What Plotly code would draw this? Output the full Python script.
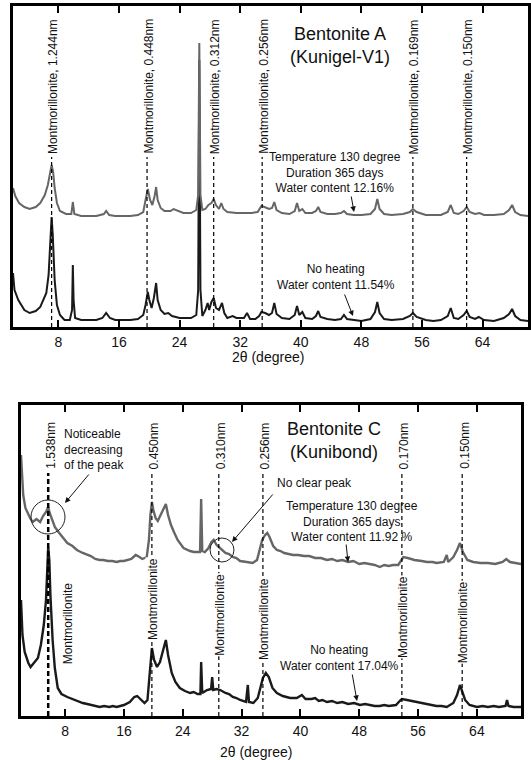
import plotly.graph_objects as go

W, H = 531, 760

# ---------------- Panel A : Bentonite A (Kunigel-V1) ----------------
a_heat_deg = [2.0, 2.3, 2.8, 3.5, 4.2, 5.0, 5.6, 6.2, 6.6, 6.9, 7.1, 7.3, 7.5, 7.8, 8.2, 9.0, 9.7, 9.9, 10.1,
              11, 12, 13, 14.0, 14.3, 14.7, 15.5, 16.5, 17.5, 18.5, 19.2, 19.5, 19.8, 20.1, 20.4, 20.7, 20.9,
              21.1, 21.5, 22, 22.8, 23.2, 23.8, 24.5, 25.5, 26.2, 26.45, 26.6, 26.75, 27.0, 27.4, 27.8, 28.2,
              28.5, 28.8, 29.2, 29.5, 29.8, 30.3, 31.5, 32.5, 33.5, 34.3, 34.8, 35.2, 35.8, 36.2, 36.5, 36.8,
              37.5, 38.5, 39.2, 39.5, 39.8, 40.2, 40.6, 41.5, 42.0, 42.3, 42.6, 43.5, 44.5, 45.3, 45.7, 46.1,
              47, 48, 49.2, 49.8, 50.1, 50.4, 51, 52, 53.5, 54.4, 54.8, 55.3, 56.5, 57.5, 58.5, 59.4, 59.8,
              60.2, 60.8, 61.5, 61.9, 62.3, 63.0, 63.6, 64.2, 65.5, 66.8, 67.5, 67.9, 68.3, 69.0, 70.0]
a_heat_int = [139, 131, 124, 120, 118, 120, 124, 132, 142, 155, 162, 155, 139, 124, 116, 113, 113, 125, 113,
              111, 111, 111, 113, 116, 112, 111, 111, 111, 112, 115, 127, 138, 127, 122, 131, 140,
              127, 119, 116, 116, 118, 116, 114, 114, 117, 132, 284, 132, 117, 118, 122, 124,
              128, 122, 118, 124, 118, 115, 114, 114, 114, 115, 121, 120, 118, 119, 125, 117,
              114, 113, 116, 124, 116, 118, 114, 114, 116, 120, 115, 113, 113, 114, 116, 113,
              112, 112, 113, 118, 128, 118, 113, 112, 113, 115, 118, 115, 112, 112, 112, 115, 122,
              114, 113, 116, 120, 115, 113, 114, 112, 112, 113, 117, 122, 115, 112, 111]

a_raw_deg = [2.0, 2.2, 2.7, 3.5, 4.2, 5.0, 5.6, 6.0, 6.4, 6.7, 6.9, 7.1, 7.25, 7.5, 7.8, 8.2, 8.8, 9.5, 9.8,
             9.9, 10.0, 10.2, 11, 12, 13, 13.8, 14.3, 14.8, 15.5, 16.5, 17.5, 18.5, 19.2, 19.5, 19.8, 20.0,
             20.3, 20.6, 20.9, 21.1, 21.5, 22, 22.5, 23, 24, 25.5, 26.2, 26.45, 26.6, 26.75, 27.0, 27.4,
             27.7, 27.9, 28.2, 28.5, 28.8, 29.2, 29.6, 29.9, 30.3, 31.0, 31.5, 32.5, 32.9, 33.3, 34.0, 34.5,
             34.8, 35.3, 35.8, 36.2, 36.5, 36.8, 37.5, 38.5, 39.2, 39.5, 39.8, 40.2, 40.6, 41.5, 42.0, 42.3,
             42.6, 43.5, 44.5, 45.3, 45.7, 46.1, 47, 48, 49.2, 49.8, 50.1, 50.4, 51, 52, 53.5, 54.4, 54.8,
             55.3, 56.5, 57.5, 58.5, 59.4, 59.8, 60.2, 60.8, 61.5, 61.9, 62.3, 63.0, 63.5, 64.2, 65.5, 66.8,
             67.5, 67.9, 68.3, 69.0, 70.0]
a_raw_int = [54, 37, 27, 17, 14, 16, 20, 27, 34, 52, 82, 110, 92, 47, 22, 12, 7, 7, 17,
             62, 27, 9, 7, 7, 7, 9, 14, 9, 7, 7, 7, 8, 12, 22, 35, 27,
             19, 29, 44, 27, 17, 13, 14, 11, 9, 9, 12, 37, 267, 37, 11, 17,
             24, 17, 25, 29, 19, 17, 24, 14, 9, 11, 9, 9, 14, 8, 8, 11,
             15, 14, 12, 14, 24, 13, 9, 8, 12, 21, 12, 15, 9, 8, 11, 16,
             10, 8, 7, 8, 12, 8, 7, 6, 8, 15, 25, 14, 8, 7, 8, 11, 14,
             10, 7, 6, 7, 11, 19, 9, 8, 12, 16, 10, 8, 10, 7, 6, 9,
             13, 18, 11, 7, 6]

a_peak_deg = [7.1, 19.7, 28.5, 34.9, 54.8, 61.9]
a_peak_labels = ["Montmorillonite, 1.244nm", "Montmorillonite, 0.448nm", "Montmorillonite, 0.312nm",
                 "Montmorillonite, 0.256nm", "Montmorillonite, 0.169nm", "Montmorillonite, 0.150nm"]

# ---------------- Panel C : Bentonite C (Kunibond) ----------------
c_heat_deg = [2.0, 2.1, 2.3, 2.6, 3.0, 3.3, 3.6, 4.1, 4.6, 5.0, 5.4, 5.7, 5.9, 6.2, 6.6, 7.2, 7.8, 8.3, 9.0,
              9.6, 10.4, 11.0, 11.5, 12.1, 12.7, 13.2, 13.8, 14.4, 15.0, 15.5, 16.0, 17.0, 17.6, 17.9, 18.5,
              19.1, 19.4, 19.6, 19.8, 20.0, 20.3, 20.6, 21.0, 21.4, 21.7, 22.0, 22.4, 22.8, 23.3, 24.1, 24.6,
              25.0, 25.5, 26.0, 26.35, 26.5, 26.65, 27.0, 27.5, 27.9, 28.2, 28.6, 29.1, 29.8, 30.3, 30.8, 31.3,
              31.8, 32.7, 33.5, 34.1, 34.5, 34.8, 35.2, 35.5, 35.8, 36.3, 36.8, 37.3, 37.8, 38.4, 39.0, 39.7,
              40.5, 41.2, 42.0, 42.8, 43.6, 44.3, 45.0, 45.7, 46.5, 47.2, 48.0, 48.7, 49.5, 50.1, 50.8, 51.4,
              52.0, 52.6, 53.3, 53.7, 54.0, 54.6, 55.5, 56.5, 57.2, 58.0, 58.5, 59.5, 59.9, 60.1, 60.8, 61.3,
              61.7, 62.1, 62.7, 63.5, 64.5, 65.5, 66.5, 67.5, 68.0, 68.5, 69.2, 70.0]
c_heat_int = [261, 241, 221, 208, 201, 197, 194, 197, 194, 200, 204, 209, 203, 196, 189, 183, 177, 173, 170,
              166, 163, 161, 160, 157, 156, 156, 155, 155, 154, 155, 155, 157, 161, 160, 157,
              159, 176, 201, 214, 206, 198, 195, 201, 208, 212, 201, 191, 184, 176, 168, 166,
              165, 164, 164, 164, 217, 165, 164, 168, 174, 176, 171, 168, 163, 162, 159, 158,
              155, 154, 153, 156, 166, 176, 181, 183, 179, 170, 166, 165, 163, 162, 161, 161,
              160, 160, 158, 158, 156, 157, 155, 156, 154, 155, 152, 153, 152, 151, 149, 151,
              150, 151, 151, 156, 159, 158, 156, 155, 154, 154, 153, 154, 161, 154, 159, 166,
              173, 164, 156, 154, 153, 153, 152, 154, 157, 154, 153, 152]

c_raw_deg = [2.0, 2.2, 2.5, 3.0, 3.3, 3.8, 4.3, 4.7, 5.1, 5.4, 5.55, 5.7, 5.85, 6.0, 6.3, 6.6, 7.0, 7.5, 8.3,
             9.3, 10.4, 11.0, 11.5, 12.1, 12.7, 13.3, 14.0, 14.5, 15.0, 15.5, 16.0, 16.8, 17.4, 17.8, 18.3,
             18.8, 19.2, 19.5, 19.8, 20.1, 20.5, 20.9, 21.3, 21.7, 22.0, 22.5, 23.0, 23.6, 24.3, 25.0, 25.5,
             26.0, 26.4, 26.5, 26.65, 27.3, 27.85, 28.0, 28.15, 28.6, 29.1, 29.8, 30.3, 30.8, 31.3, 31.8, 32.6,
             32.85, 33.0, 33.6, 34.2, 34.6, 34.9, 35.3, 35.7, 36.2, 36.8, 37.6, 38.6, 39.5, 40.2, 40.7, 41.5,
             42.0, 42.5, 43.0, 43.6, 44.3, 45.0, 45.7, 46.5, 47.3, 48.1, 48.8, 49.5, 50.1, 50.8, 51.4, 52.0,
             52.6, 53.0, 53.5, 53.8, 54.5, 55.2, 55.9, 56.5, 57.0, 57.7, 58.5, 59.2, 59.9, 60.8, 61.3, 61.7,
             62.1, 62.4, 63.0, 64.0, 64.8, 65.5, 66.3, 67.0, 67.9, 68.1, 68.3, 69.0, 70.0]
c_raw_int = [116, 81, 64, 53, 49, 53, 58, 71, 91, 116, 146, 169, 156, 121, 76, 48, 28, 22, 19,
             16, 13, 12, 11, 10, 9, 10, 9, 10, 9, 10, 11, 14, 19, 20, 16,
             13, 16, 41, 68, 56, 49, 54, 66, 76, 61, 43, 34, 28, 25, 23, 24,
             22, 22, 54, 23, 26, 27, 39, 26, 27, 26, 23, 22, 19, 18, 16, 14,
             31, 14, 13, 18, 31, 38, 43, 39, 28, 23, 20, 18, 18, 21, 17, 17,
             18, 15, 16, 14, 15, 13, 14, 12, 13, 11, 12, 11, 10, 10, 11, 10,
             11, 11, 15, 17, 16, 15, 14, 13, 12, 11, 10, 10, 9, 13, 21, 31,
             22, 16, 11, 9, 10, 9, 10, 9, 10, 16, 10, 9, 9]

c_peak_deg = [5.7, 19.8, 28.9, 34.9, 53.8, 62.0]
c_peak_labels = ["1.538nm", "0.450nm", "0.310nm", "0.256nm", "0.170nm", "0.150nm"]
c_mont_label = "Montmorillonite"

FONT = "Arial, 'Liberation Sans', sans-serif"
GRAY = "#666666"
BLACK = "#1a1a1a"


def px(p):
    return p / W


def py(p):
    return 1 - p / H


fig = go.Figure()
fig.add_trace(go.Scatter(x=a_raw_deg, y=a_raw_int, mode="lines", line=dict(color=BLACK, width=2),
                         xaxis="x", yaxis="y", showlegend=False))
fig.add_trace(go.Scatter(x=a_heat_deg, y=a_heat_int, mode="lines", line=dict(color=GRAY, width=2),
                         xaxis="x", yaxis="y", showlegend=False))
fig.add_trace(go.Scatter(x=c_raw_deg, y=c_raw_int, mode="lines", line=dict(color=BLACK, width=2.4),
                         xaxis="x2", yaxis="y2", showlegend=False))
fig.add_trace(go.Scatter(x=c_heat_deg, y=c_heat_int, mode="lines", line=dict(color=GRAY, width=2.4),
                         xaxis="x2", yaxis="y2", showlegend=False))

ticks = [8, 16, 24, 32, 40, 48, 56, 64]
axis_common = dict(range=[2, 70], tickvals=ticks, ticktext=[str(t) for t in ticks], ticks="inside",
                   ticklen=7, tickwidth=1.5, tickcolor="black", showline=True, linewidth=2.5,
                   linecolor="black", mirror="ticks", showgrid=False, zeroline=False,
                   tickfont=dict(family=FONT, size=14, color="#111"))
yaxis_common = dict(showticklabels=False, ticks="", showline=True, linewidth=2.5, linecolor="black",
                    mirror=True, showgrid=False, zeroline=False)

annotations = []
shapes = []

# Panel A dashed reference lines and labels
for d, lab in zip(a_peak_deg, a_peak_labels):
    shapes.append(dict(type="line", xref="x", yref="paper", x0=d, x1=d, y0=py(327), y1=py(157),
                       line=dict(color="black", width=1.2, dash="4px,3px")))
    annotations.append(dict(xref="x", yref="paper", x=d, y=py(156), text=lab, textangle=-90,
                            showarrow=False, xanchor="center", yanchor="bottom", xshift=2,
                            font=dict(family=FONT, size=12, color="#111")))

# Panel C dashed reference lines and labels
for i, (d, lab) in enumerate(zip(c_peak_deg, c_peak_labels)):
    shapes.append(dict(type="line", xref="x2", yref="paper", x0=d, x1=d, y0=py(716), y1=py(473),
                       line=dict(color="black", width=2.5 if i == 0 else 1.2,
                                 dash="5px,3px" if i == 0 else "4px,3px")))
    annotations.append(dict(xref="x2", yref="paper", x=d, y=py(471), text=lab, textangle=-90,
                            showarrow=False, xanchor="center", yanchor="bottom", xshift=2,
                            font=dict(family=FONT, size=12, color="#111")))

mont_pos = [(8.3, 623, False), (19.8, 599, True), (28.9, 615, True), (34.9, 619, True),
            (53.8, 617, True), (62.0, 622, True)]
for d, yc, bg in mont_pos:
    annotations.append(dict(xref="x2", yref="paper", x=d, y=py(yc), text=c_mont_label, textangle=-90,
                            showarrow=False, xanchor="center", yanchor="middle", xshift=1,
                            bgcolor="white" if bg else "rgba(0,0,0,0)", borderpad=0,
                            font=dict(family=FONT, size=12, color="#111")))


def text_ann(x, y, text, size=12, align="center", xanchor="center"):
    annotations.append(dict(xref="paper", yref="paper", x=px(x), y=py(y), text=text, showarrow=False,
                            xanchor=xanchor, yanchor="middle", align=align,
                            font=dict(family=FONT, size=size, color="#111")))


def arrow(tx, ty, hx, hy):
    annotations.append(dict(xref="paper", yref="paper", x=px(hx), y=py(hy), ax=tx - hx, ay=ty - hy,
                            axref="pixel", ayref="pixel", text="", showarrow=True, arrowhead=2,
                            arrowsize=1.1, arrowwidth=1, arrowcolor="#111"))


text_ann(340, 45, "Bentonite A<br>(Kunigel-V1)", size=18)
text_ann(335, 172, "Temperature 130 degree<br>Duration 365 days<br>Water content 12.16%")
arrow(351, 195, 354, 212)
text_ann(336, 277, "No heating<br>Water content 11.54%")
arrow(344, 293, 353, 316)
text_ann(268, 357, "2θ (degree)", size=14)

text_ann(334, 440, "Bentonite C<br>(Kunibond)", size=18)
text_ann(62, 449, "Noticeable<br>decreasing<br>of the peak", align="left", xanchor="left")
arrow(90, 473, 65, 503)
text_ann(275, 483, "No clear peak", align="left", xanchor="left")
arrow(274, 493, 232, 542)
text_ann(352, 521, "Temperature 130 degree<br>Duration 365 days<br>Water content 11.92 %")
arrow(346, 543, 348, 562)
text_ann(339, 658, "No heating<br>Water content 17.04%")
arrow(352, 673, 357, 701)
text_ann(256, 752, "2θ (degree)", size=14)

shapes.append(dict(type="circle", xref="paper", yref="paper", x0=px(31), x1=px(65), y0=py(534), y1=py(500),
                   line=dict(color="#222", width=1)))
shapes.append(dict(type="circle", xref="paper", yref="paper", x0=px(210), x1=px(234), y0=py(562),
                   y1=py(538), line=dict(color="#222", width=1)))

fig.update_layout(
    width=W, height=H, margin=dict(l=0, r=0, t=0, b=0),
    paper_bgcolor="white", plot_bgcolor="white", showlegend=False,
    xaxis=dict(domain=[px(13), px(528)], anchor="y", **axis_common),
    yaxis=dict(domain=[py(327), py(6)], range=[0, 321], anchor="x", **yaxis_common),
    xaxis2=dict(domain=[px(21), px(521)], anchor="y2", **axis_common),
    yaxis2=dict(domain=[py(716), py(405)], range=[0, 311], anchor="x2", **yaxis_common),
    annotations=annotations, shapes=shapes,
    font=dict(family=FONT),
)

fig.write_html("out.html")
